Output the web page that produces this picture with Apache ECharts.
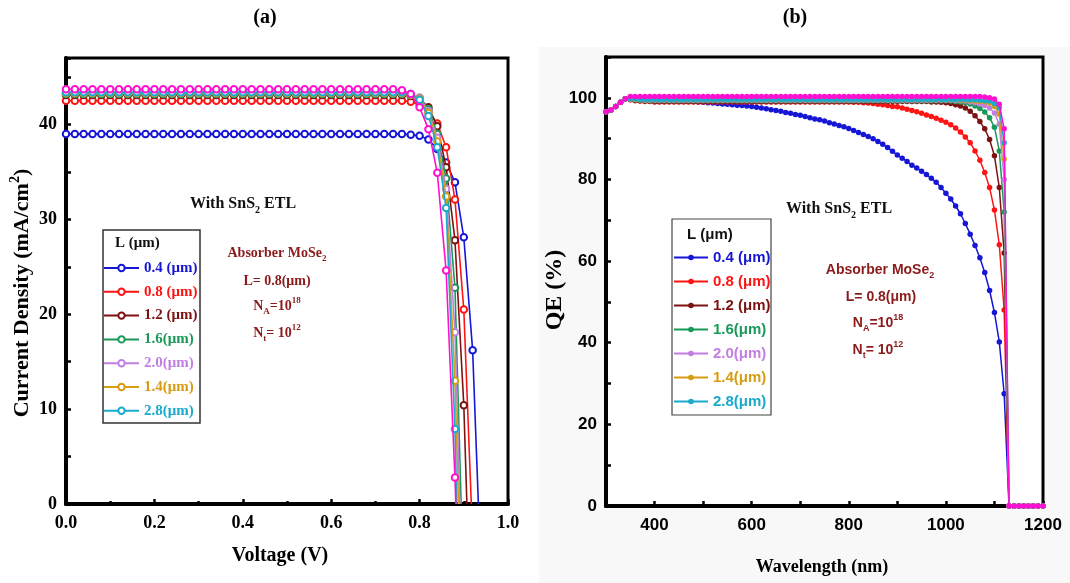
<!DOCTYPE html>
<html><head><meta charset="utf-8">
<script src="https://cdn.jsdelivr.net/npm/echarts@6/dist/echarts.min.js"></script>
<style>html,body{margin:0;padding:0;background:#fff}#c{width:1070px;height:583px}</style>
</head><body><div id="c"></div>
<script>
// ---------- Panel (a): J-V ----------
const voltage = [
0.00,0.02,0.04,0.06,0.08,0.10,0.12,0.14,0.16,0.18,
0.20,0.22,0.24,0.26,0.28,0.30,0.32,0.34,0.36,0.38,
0.40,0.42,0.44,0.46,0.48,0.50,0.52,0.54,0.56,0.58,
0.60,0.62,0.64,0.66,0.68,0.70,0.72,0.74,0.76,0.78,
0.80,0.82,0.84,0.86,0.88,0.90,0.92];
const jL04 = [
39.0,39.0,39.0,39.0,39.0,39.0,39.0,39.0,39.0,39.0,
39.0,39.0,39.0,39.0,39.0,39.0,39.0,39.0,39.0,39.0,
39.0,39.0,39.0,39.0,39.0,39.0,39.0,39.0,39.0,39.0,
39.0,39.0,39.0,39.0,39.0,39.0,39.0,39.0,39.0,38.9,
38.8,38.4,37.4,36.0,33.9,28.1,16.2];
const jL08 = [
42.5,42.5,42.5,42.5,42.5,42.5,42.5,42.5,42.5,42.5,
42.5,42.5,42.5,42.5,42.5,42.5,42.5,42.5,42.5,42.5,
42.5,42.5,42.5,42.5,42.5,42.5,42.5,42.5,42.5,42.5,
42.5,42.5,42.5,42.5,42.5,42.5,42.5,42.5,42.5,42.4,
42.1,41.4,40.1,37.6,32.1,20.5];
const jL12 = [
43.1,43.1,43.1,43.1,43.1,43.1,43.1,43.1,43.1,43.1,
43.1,43.1,43.1,43.1,43.1,43.1,43.1,43.1,43.1,43.1,
43.1,43.1,43.1,43.1,43.1,43.1,43.1,43.1,43.1,43.1,
43.1,43.1,43.1,43.1,43.1,43.1,43.1,43.1,43.1,43.0,
42.7,41.8,39.8,35.5,27.8,10.4];
const jL16 = [
43.2,43.2,43.2,43.2,43.2,43.2,43.2,43.2,43.2,43.2,
43.2,43.2,43.2,43.2,43.2,43.2,43.2,43.2,43.2,43.2,
43.2,43.2,43.2,43.2,43.2,43.2,43.2,43.2,43.2,43.2,
43.2,43.2,43.2,43.2,43.2,43.2,43.2,43.2,43.2,43.1,
42.8,41.6,39.0,34.3,22.8];
const jL20 = [
43.3,43.3,43.3,43.3,43.3,43.3,43.3,43.3,43.3,43.3,
43.3,43.3,43.3,43.3,43.3,43.3,43.3,43.3,43.3,43.3,
43.3,43.3,43.3,43.3,43.3,43.3,43.3,43.3,43.3,43.3,
43.3,43.3,43.3,43.3,43.3,43.3,43.3,43.3,43.3,43.2,
42.8,41.4,38.6,33.2,18.1];
const jL14 = [
43.3,43.3,43.3,43.3,43.3,43.3,43.3,43.3,43.3,43.3,
43.3,43.3,43.3,43.3,43.3,43.3,43.3,43.3,43.3,43.3,
43.3,43.3,43.3,43.3,43.3,43.3,43.3,43.3,43.3,43.3,
43.3,43.3,43.3,43.3,43.3,43.3,43.3,43.3,43.3,43.1,
42.7,41.2,38.2,32.4,13.0];
const jL28 = [
43.4,43.4,43.4,43.4,43.4,43.4,43.4,43.4,43.4,43.4,
43.4,43.4,43.4,43.4,43.4,43.4,43.4,43.4,43.4,43.4,
43.4,43.4,43.4,43.4,43.4,43.4,43.4,43.4,43.4,43.4,
43.4,43.4,43.4,43.4,43.4,43.4,43.4,43.4,43.4,43.2,
42.6,40.9,37.6,31.2,7.9];
const jExtra = [
43.7,43.7,43.7,43.7,43.7,43.7,43.7,43.7,43.7,43.7,
43.7,43.7,43.7,43.7,43.7,43.7,43.7,43.7,43.7,43.7,
43.7,43.7,43.7,43.7,43.7,43.7,43.7,43.7,43.7,43.7,
43.7,43.7,43.7,43.7,43.7,43.7,43.7,43.7,43.6,43.2,
41.8,39.5,34.9,24.6,2.8];
const vocList = [0.933,0.917,0.907,0.894,0.891,0.888,0.884,0.882];

// ---------- Panel (b): QE ----------
const wavelength = [
300,310,320,330,340,350,360,370,380,390,
400,410,420,430,440,450,460,470,480,490,
500,510,520,530,540,550,560,570,580,590,
600,610,620,630,640,650,660,670,680,690,
700,710,720,730,740,750,760,770,780,790,
800,810,820,830,840,850,860,870,880,890,
900,910,920,930,940,950,960,970,980,990,
1000,1010,1020,1030,1040,1050,1060,1070,1080,1090,
1100,1110,1120,1130,1140,1150,1160,1170,1180,1190,
1200];
const qeL04 = [
96.6,97.0,97.9,98.9,99.8,99.9,99.9,99.9,99.8,99.8,
99.8,99.7,99.6,99.6,99.5,99.4,99.3,99.2,99.1,99.0,
98.9,98.8,98.7,98.6,98.5,98.4,98.3,98.2,98.1,98.0,
97.9,97.7,97.5,97.3,97.1,96.9,96.7,96.4,96.2,95.9,
95.7,95.4,95.1,94.8,94.6,94.3,93.9,93.6,93.2,92.9,
92.5,92.0,91.5,91.0,90.5,90.0,89.3,88.6,87.8,86.9,
86.0,85.2,84.4,83.5,82.8,82.0,81.2,80.3,79.3,78.0,
76.6,75.2,73.5,71.6,69.2,66.6,63.8,60.8,57.2,52.8,
47.4,40.2,27.5,0,0,0,0,0,0,0,
0];
const qeL08 = [
96.6,97.0,97.9,98.9,99.8,99.5,99.3,99.2,99.1,99.1,
99.0,99.0,99.0,99.0,99.0,99.0,99.0,99.0,99.0,99.0,
99.0,99.0,99.0,99.0,99.0,99.0,99.0,99.0,99.0,99.0,
99.0,99.0,99.0,99.0,99.0,99.0,99.0,99.0,99.0,99.0,
99.0,99.0,99.0,99.0,99.0,99.0,99.0,99.0,99.0,99.0,
99.0,98.9,98.9,98.8,98.7,98.6,98.4,98.3,98.1,97.9,
97.8,97.5,97.2,96.9,96.6,96.2,95.8,95.4,95.0,94.5,
94.0,93.4,92.6,91.6,90.4,89.0,87.0,84.7,81.7,78.0,
72.5,64.0,48.0,0,0,0,0,0,0,0,
0];
const qeL12 = [
96.6,97.0,97.9,98.9,99.8,99.6,99.4,99.3,99.2,99.2,
99.1,99.1,99.1,99.1,99.1,99.1,99.1,99.1,99.1,99.1,
99.1,99.1,99.1,99.1,99.1,99.1,99.1,99.1,99.1,99.1,
99.1,99.1,99.1,99.1,99.1,99.1,99.1,99.1,99.1,99.1,
99.1,99.1,99.1,99.1,99.1,99.1,99.1,99.1,99.1,99.1,
99.1,99.1,99.1,99.1,99.1,99.1,99.1,99.1,99.1,99.1,
99.1,99.1,99.1,99.1,99.1,99.1,99.1,99.0,99.0,98.9,
98.8,98.6,98.3,98.0,97.5,96.7,95.6,94.2,92.4,89.8,
85.8,78.0,62.0,0,0,0,0,0,0,0,
0];
const qeL16 = [
96.6,97.0,97.9,98.9,99.8,99.7,99.5,99.4,99.3,99.3,
99.3,99.3,99.3,99.3,99.3,99.3,99.3,99.3,99.3,99.3,
99.3,99.3,99.3,99.3,99.3,99.3,99.3,99.3,99.3,99.3,
99.3,99.3,99.3,99.3,99.3,99.3,99.3,99.3,99.3,99.3,
99.3,99.3,99.3,99.3,99.3,99.3,99.3,99.3,99.3,99.3,
99.3,99.3,99.3,99.3,99.3,99.3,99.3,99.3,99.3,99.3,
99.3,99.3,99.3,99.3,99.3,99.3,99.3,99.3,99.3,99.3,
99.3,99.2,99.1,99.0,98.8,98.5,98.0,97.4,96.5,95.1,
92.8,87.0,72.0,0,0,0,0,0,0,0,
0];
const qeL20 = [
96.6,97.0,97.9,98.9,99.8,99.7,99.6,99.5,99.4,99.4,
99.4,99.4,99.4,99.4,99.4,99.4,99.4,99.4,99.4,99.4,
99.4,99.4,99.4,99.4,99.4,99.4,99.4,99.4,99.4,99.4,
99.4,99.4,99.4,99.4,99.4,99.4,99.4,99.4,99.4,99.4,
99.4,99.4,99.4,99.4,99.4,99.4,99.4,99.4,99.4,99.4,
99.4,99.4,99.4,99.4,99.4,99.4,99.4,99.4,99.4,99.4,
99.4,99.4,99.4,99.4,99.4,99.4,99.4,99.4,99.4,99.4,
99.4,99.4,99.3,99.3,99.2,99.0,98.8,98.5,98.1,97.5,
96.3,93.5,80.0,0,0,0,0,0,0,0,
0];
const qeL14 = [
96.6,97.0,97.9,98.9,99.8,99.8,99.6,99.5,99.5,99.5,
99.5,99.5,99.5,99.5,99.5,99.5,99.5,99.5,99.5,99.5,
99.5,99.5,99.5,99.5,99.5,99.5,99.5,99.5,99.5,99.5,
99.5,99.5,99.5,99.5,99.5,99.5,99.5,99.5,99.5,99.5,
99.5,99.5,99.5,99.5,99.5,99.5,99.5,99.5,99.5,99.5,
99.5,99.5,99.5,99.5,99.5,99.5,99.5,99.5,99.5,99.5,
99.5,99.5,99.5,99.5,99.5,99.5,99.5,99.5,99.5,99.5,
99.5,99.5,99.5,99.4,99.4,99.3,99.2,99.1,99.0,98.7,
97.9,96.0,85.0,0,0,0,0,0,0,0,
0];
const qeL28 = [
96.6,97.0,97.9,98.9,99.8,99.8,99.7,99.6,99.6,99.6,
99.6,99.6,99.6,99.6,99.6,99.6,99.6,99.6,99.6,99.6,
99.6,99.6,99.6,99.6,99.6,99.6,99.6,99.6,99.6,99.6,
99.6,99.6,99.6,99.6,99.6,99.6,99.6,99.6,99.6,99.6,
99.6,99.6,99.6,99.6,99.6,99.6,99.6,99.6,99.6,99.6,
99.6,99.6,99.6,99.6,99.6,99.6,99.6,99.6,99.6,99.6,
99.6,99.6,99.6,99.6,99.6,99.6,99.6,99.6,99.6,99.6,
99.6,99.6,99.6,99.6,99.6,99.5,99.5,99.4,99.3,99.2,
98.6,97.5,89.0,0,0,0,0,0,0,0,
0];
const qeExtra = [
96.6,97.0,97.9,98.9,99.8,100.3,100.3,100.3,100.3,100.3,
100.3,100.3,100.3,100.3,100.3,100.3,100.3,100.3,100.3,100.3,
100.3,100.3,100.3,100.3,100.3,100.3,100.3,100.3,100.3,100.3,
100.3,100.3,100.3,100.3,100.3,100.3,100.3,100.3,100.3,100.3,
100.3,100.3,100.3,100.3,100.3,100.3,100.3,100.3,100.3,100.3,
100.3,100.3,100.3,100.3,100.3,100.3,100.3,100.3,100.3,100.3,
100.3,100.3,100.3,100.3,100.3,100.3,100.3,100.3,100.3,100.3,
100.3,100.3,100.3,100.3,100.3,100.3,100.3,100.3,100.2,100.0,
99.7,98.4,92.4,0,0,0,0,0,0,0,
0];

const seriesNames = ['0.4 (μm)','0.8 (μm)','1.2 (μm)','1.6(μm)','2.0(μm)','1.4(μm)','2.8(μm)','extra'];
const colors = ['#1616d6','#ff1414','#7c1212','#1a9a58','#c27fe2','#d69c12','#1aaacc','#ff10d0'];
const jvData = [jL04,jL08,jL12,jL16,jL20,jL14,jL28,jExtra];
const qeData = [qeL04,qeL08,qeL12,qeL16,qeL20,qeL14,qeL28,qeExtra];

const serif = '"Liberation Serif","Times New Roman",serif';
const sans = '"Liberation Sans",Arial,sans-serif';
const annoColor = '#8b1a1a';

const series = [];
jvData.forEach((arr, k) => {
  const data = arr.map((j, i) => [voltage[i], j]);
  data.push({value: [vocList[k], 0], symbol: 'none'});
  series.push({
    type: 'line', name: seriesNames[k], xAxisIndex: 0, yAxisIndex: 0, data,
    symbol: 'emptyCircle', symbolSize: 6.5, showAllSymbol: true,
    lineStyle: {color: colors[k], width: 1.6},
    itemStyle: {color: colors[k], borderColor: colors[k], borderWidth: 2.4},
    z: 2 + k
  });
});
qeData.forEach((arr, k) => {
  const data = arr.map((q, i) => [wavelength[i], q]);
  series.push({
    type: 'line', name: seriesNames[k] + '\u200b', xAxisIndex: 1, yAxisIndex: 1, data,
    symbol: 'circle', symbolSize: 5.5, showAllSymbol: true,
    lineStyle: {color: colors[k], width: 1.5},
    itemStyle: {color: colors[k]},
    z: 2 + k
  });
});

function axisCommon() {
  return {
    axisLine: {show: true, onZero: false, lineStyle: {color: '#000', width: 4}},
    axisTick: {show: true, inside: true, length: 5, lineStyle: {color: '#000', width: 2.5}},
    splitLine: {show: false}
  };
}

const text = (x, y, t, font, size, color, extra) => Object.assign({
  type: 'text', x, y, z: 10,
  style: Object.assign({text: t, fontFamily: font, fontWeight: 'bold', fontSize: size,
    fill: color, align: 'center', verticalAlign: 'middle'}, (extra && extra.style) || {})
}, extra && extra.el || {});

function richAnno(x, y, t, font, size, color) {
  return {
    type: 'text', x, y, z: 10,
    style: {
      text: t, align: 'center', verticalAlign: 'middle',
      rich: {
        m: {fontFamily: font, fontWeight: 'bold', fontSize: size, fill: color, lineHeight: size + 6},
        sub: {fontFamily: font, fontWeight: 'bold', fontSize: Math.round(size * 0.62), fill: color, lineHeight: Math.round(size * 0.62), verticalAlign: 'bottom'},
        sup: {fontFamily: font, fontWeight: 'bold', fontSize: Math.round(size * 0.62), fill: color, lineHeight: Math.round(size * 0.62), verticalAlign: 'top'}
      }
    }
  };
}

const option = {
  animation: false,
  backgroundColor: '#fff',
  grid: [
    {left: 66, top: 58, width: 442, height: 446, show: true, borderColor: '#000', borderWidth: 3, backgroundColor: '#fff'},
    {left: 606, top: 57, width: 437, height: 449, show: true, borderColor: '#000', borderWidth: 3, backgroundColor: '#fff'}
  ],
  xAxis: [
    Object.assign(axisCommon(), {type: 'value', gridIndex: 0, min: 0, max: 1, interval: 0.2,
      minorTick: {show: true, splitNumber: 2, length: 3, lineStyle: {color: '#000', width: 2.5}},
      axisLabel: {margin: 10, color: '#000', fontFamily: serif, fontWeight: 'bold', fontSize: 18,
        formatter: v => v.toFixed(1)}}),
    Object.assign(axisCommon(), {type: 'value', gridIndex: 1, min: 300, max: 1200, interval: 100,
      axisLabel: {margin: 11, color: '#000', fontFamily: sans, fontWeight: 'bold', fontSize: 17,
        formatter: v => (Math.round(v) % 200 === 0 ? String(Math.round(v)) : '')}})
  ],
  yAxis: [
    Object.assign(axisCommon(), {type: 'value', gridIndex: 0, min: 0, max: 47, interval: 5,
      axisLabel: {margin: 9, color: '#000', fontFamily: serif, fontWeight: 'bold', fontSize: 18,
        formatter: v => (Math.round(v) === v && v % 10 === 0 ? String(v) : '')}}),
    Object.assign(axisCommon(), {type: 'value', gridIndex: 1, min: 0, max: 110, interval: 10,
      axisLabel: {margin: 9, color: '#000', fontFamily: sans, fontWeight: 'bold', fontSize: 17,
        formatter: v => (Math.round(v) % 20 === 0 ? String(Math.round(v)) : '')}})
  ],
  legend: [
    {left: 103, top: 260.5, orient: 'vertical', itemWidth: 35, itemHeight: 8, itemGap: 8.8, padding: 0,
      selectedMode: false,
      textStyle: {fontFamily: serif, fontWeight: 'bold', fontSize: 15},
      data: seriesNames.slice(0, 7).map((n, i) => ({name: n, textStyle: {color: colors[i]}}))},
    {left: 673, top: 250, orient: 'vertical', itemWidth: 34, itemHeight: 7, itemGap: 9, padding: 0,
      selectedMode: false,
      textStyle: {fontFamily: sans, fontWeight: 'bold', fontSize: 15},
      data: seriesNames.slice(0, 7).map((n, i) => ({name: n + '\u200b', textStyle: {color: colors[i]}}))}
  ],
  graphic: [
    {type: 'rect', z: -10, shape: {x: 539, y: 47, width: 531, height: 536}, style: {fill: '#f8f8f8'}},
    text(265, 18, '(a)', serif, 20, '#000'),
    text(795, 18, '(b)', serif, 20, '#000'),
    text(280, 556, 'Voltage (V)', serif, 20, '#000'),
    text(822, 567, 'Wavelength (nm)', serif, 18, '#000'),
    Object.assign(richAnno(22, 293, '{m|Current Density (mA/cm}{sup|2}{m|)}', serif, 22, '#000'), {rotation: Math.PI / 2}),
    Object.assign(text(555, 290, 'QE (%)', serif, 24, '#000'), {rotation: Math.PI / 2}),
    {type: 'rect', z: 5, shape: {x: 103, y: 230, width: 97, height: 193}, style: {fill: 'none', stroke: '#333', lineWidth: 1.5}},
    {type: 'rect', z: 5, shape: {x: 672, y: 219, width: 99, height: 196}, style: {fill: 'none', stroke: '#444', lineWidth: 1.2}},
    text(115, 243, 'L (μm)', serif, 15, '#111', {style: {align: 'left'}}),
    text(687, 235, 'L (μm)', sans, 15, '#111', {style: {align: 'left'}}),
    richAnno(243, 204, '{m|With SnS}{sub|2}{m| ETL}', serif, 16, '#111'),
    richAnno(277, 253, '{m|Absorber MoSe}{sub|2}', serif, 14, annoColor),
    richAnno(277, 281, '{m|L= 0.8(μm)}', serif, 14, annoColor),
    richAnno(277, 306, '{m|N}{sub|A}{m|=10}{sup|18}', serif, 14, annoColor),
    richAnno(277, 333, '{m|N}{sub|t}{m|= 10}{sup|12}', serif, 14, annoColor),
    richAnno(839, 209, '{m|With SnS}{sub|2}{m| ETL}', serif, 16, '#111'),
    richAnno(880, 270, '{m|Absorber MoSe}{sub|2}', sans, 14, annoColor),
    richAnno(881, 297, '{m|L= 0.8(μm)}', sans, 14, annoColor),
    richAnno(878, 323, '{m|N}{sub|A}{m|=10}{sup|18}', sans, 14, annoColor),
    richAnno(878, 350, '{m|N}{sub|t}{m|= 10}{sup|12}', sans, 14, annoColor)
  ],
  series
};
const chart = echarts.init(document.getElementById('c'));
chart.setOption(option);
</script></body></html>
